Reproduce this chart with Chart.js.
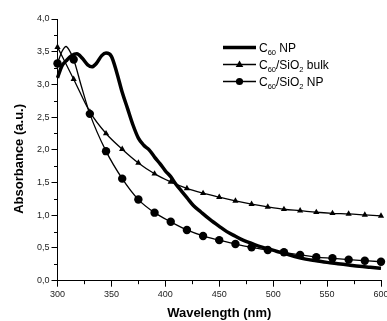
<!DOCTYPE html>
<html>
<head>
<meta charset="utf-8">
<script src="https://cdn.jsdelivr.net/npm/chart.js@4"></script>
<style>
  body { margin: 0; background: #fff; }
  #wrap { width: 387px; height: 321px; }
</style>
</head>
<body>
<div id="wrap"><canvas id="myChart"></canvas></div>
<script>
// data block
var npWave = [300, 304, 308, 313, 318, 323, 328, 332, 336, 341, 345, 350, 355, 360, 365, 370, 375, 380, 385, 390,
  395, 400, 405, 410, 415, 420, 426, 433, 441, 450, 457, 465, 472, 480, 488, 495, 503, 510, 520, 530,
  540, 550, 560, 570, 580, 590, 600];
var npAbs = [3.10, 3.28, 3.36, 3.44, 3.47, 3.40, 3.30, 3.27, 3.32, 3.44, 3.48, 3.43, 3.18, 2.88, 2.63, 2.38, 2.18, 2.07, 2.00, 1.89,
  1.79, 1.68, 1.59, 1.47, 1.37, 1.27, 1.15, 1.05, 0.94, 0.83, 0.75, 0.68, 0.62, 0.57, 0.52, 0.49, 0.45, 0.42, 0.37, 0.33,
  0.305, 0.28, 0.26, 0.24, 0.22, 0.205, 0.19];

var bulkWave = [300, 315, 330, 345, 360, 375, 390, 405, 420, 435, 450, 465, 480, 495, 510, 525, 540, 555, 570, 585, 600];
var bulkAbs = [3.57, 3.08, 2.58, 2.25, 2.01, 1.80, 1.635, 1.51, 1.41, 1.337, 1.276, 1.22, 1.17, 1.128, 1.092, 1.07, 1.046, 1.03, 1.02, 1.005, 0.99];

var sioWave = [300, 304, 308, 311, 315, 322, 330, 345, 360, 375, 390, 405, 420, 435, 450, 465, 480, 495, 510, 525, 540, 555, 570, 585, 600];
var sioAbs = [3.32, 3.50, 3.58, 3.52, 3.38, 2.98, 2.55, 1.98, 1.56, 1.24, 1.04, 0.90, 0.776, 0.684, 0.62, 0.56, 0.51, 0.47, 0.434, 0.395, 0.36, 0.342, 0.322, 0.306, 0.29];

var seriesNames = ['C60 NP', 'C60/SiO2 bulk', 'C60/SiO2 NP'];
// legend text pieces: [normal, subscript, normal, subscript, normal]
var legendParts = [['C', '60', ' NP'], ['C', '60', '/SiO', '2', ' bulk'], ['C', '60', '/SiO', '2', ' NP']];

function pts(xs, ys) {
  return xs.map(function (x, i) { return { x: x, y: ys[i] }; });
}
// markers only every 15 nm
function markerAt(ctx, r) {
  var p = ctx.raw;
  return p && p.x % 15 === 0 ? r : 0;
}

// minor ticks + legend
var extras = {
  id: 'extras',
  afterDraw: function (chart) {
    var c = chart.ctx, a = chart.chartArea;
    var xs = chart.scales.x, ys = chart.scales.y;
    c.save();
    c.strokeStyle = '#000';
    c.lineWidth = 1;
    c.beginPath();
    for (var v = 325; v < 600; v += 50) {
      var px = Math.round(xs.getPixelForValue(v)) + 0.5;
      c.moveTo(px, a.bottom);
      c.lineTo(px, a.bottom + 3.5);
    }
    for (var w = 0.25; w < 4; w += 0.5) {
      var py = Math.round(ys.getPixelForValue(w)) + 0.5;
      c.moveTo(a.left - 3.5, py);
      c.lineTo(a.left, py);
    }
    c.stroke();

    // legend
    var x0 = 223, x1 = 256, tx = 259;
    var rows = [47.5, 64.5, 81.5];
    chart.data.datasets.forEach(function (ds, i) {
      var y = rows[i];
      c.strokeStyle = '#000';
      c.lineWidth = i === 0 ? 3.5 : 1.3;
      c.beginPath();
      c.moveTo(x0, y);
      c.lineTo(x1, y);
      c.stroke();
      var mx = (x0 + x1) / 2;
      c.fillStyle = '#000';
      if (i === 1) {
        c.beginPath();
        c.moveTo(mx, y - 4);
        c.lineTo(mx + 3.8, y + 2.5);
        c.lineTo(mx - 3.8, y + 2.5);
        c.closePath();
        c.fill();
      } else if (i === 2) {
        c.beginPath();
        c.arc(mx, y, 3.6, 0, Math.PI * 2);
        c.fill();
      }
      var cx = tx;
      c.textBaseline = 'alphabetic';
      c.textAlign = 'left';
      legendParts[i].forEach(function (s, k) {
        var sub = k % 2 === 1;
        c.font = (sub ? '7.5px' : '12px') + ' "Liberation Sans", Arial, sans-serif';
        c.fillText(s, cx, y + 4.5 + (sub ? 2.5 : 0));
        cx += c.measureText(s).width;
      });
    });
    c.restore();
  }
};

var tickFont = { family: '"Liberation Sans", Arial, sans-serif', size: 9 };
var titleFont = { family: '"Liberation Sans", Arial, sans-serif', size: 13, weight: 'bold', lineHeight: 1.2 };

var myChart = new Chart(document.getElementById('myChart'), {
  type: 'line',
  data: {
    datasets: [{
      label: seriesNames[0],
      data: pts(npWave, npAbs),
      borderColor: '#000',
      borderWidth: 3.5,
      pointRadius: 0,
      cubicInterpolationMode: 'monotone'
    }, {
      label: seriesNames[1],
      data: pts(bulkWave, bulkAbs),
      borderColor: '#000',
      backgroundColor: '#000',
      borderWidth: 1.3,
      pointStyle: 'triangle',
      pointRadius: 3.6,
      pointBorderWidth: 0,
      cubicInterpolationMode: 'monotone'
    }, {
      label: seriesNames[2],
      data: pts(sioWave, sioAbs),
      borderColor: '#000',
      backgroundColor: '#000',
      borderWidth: 1.3,
      pointStyle: 'circle',
      pointRadius: function (ctx) { return markerAt(ctx, 4.2); },
      pointBorderWidth: 0,
      cubicInterpolationMode: 'monotone'
    }]
  },
  options: {
    responsive: true,
    maintainAspectRatio: false,
    animation: false,
    clip: false,
    layout: { padding: { top: 19, right: 6, left: 0, bottom: 0 } },
    plugins: { legend: { display: false }, tooltip: { enabled: false } },
    scales: {
      x: {
        type: 'linear',
        min: 300, max: 600,
        ticks: { stepSize: 50, color: '#222', font: tickFont, padding: 2, maxRotation: 0 },
        grid: { drawOnChartArea: false, color: '#000', tickLength: 6, tickWidth: 1 },
        border: { color: '#000', width: 1 },
        title: { display: true, text: 'Wavelength (nm)', color: '#000', font: titleFont, padding: { top: 0, bottom: 0 } },
        afterFit: function (s) { s.height = 40.3; s.paddingRight = 0; s.paddingLeft = 0; }
      },
      y: {
        min: 0, max: 4,
        ticks: {
          stepSize: 0.5, color: '#222', font: tickFont, padding: 2,
          callback: function (v) { return v.toFixed(1).replace('.', ','); }
        },
        grid: { drawOnChartArea: false, color: '#000', tickLength: 6, tickWidth: 1 },
        border: { color: '#000', width: 1 },
        title: { display: true, text: 'Absorbance (a.u.)     ', color: '#000', font: titleFont, padding: { top: 12, bottom: 0 } },
        afterFit: function (s) { s.width = 57.5; }
      }
    }
  },
  plugins: [extras]
});
</script>
</body>
</html>
